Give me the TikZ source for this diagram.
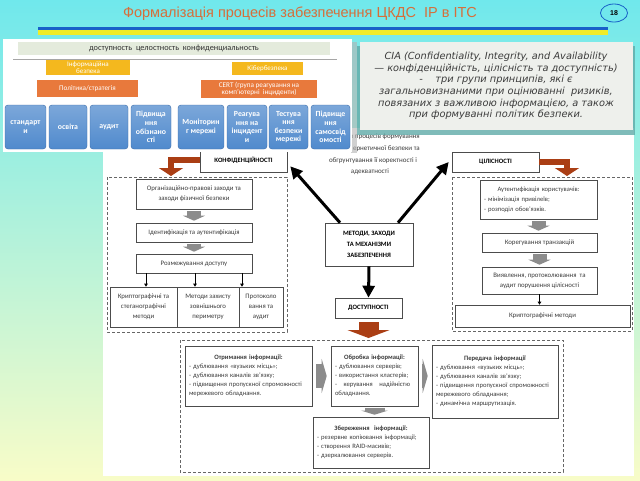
\documentclass[tikz,border=0pt]{standalone}
\usepackage{fontspec}
\setmainfont{Liberation Sans}
\newfontfamily\carl{Carlito}
\newfontfamily\dejavu{DejaVu Sans}
\usetikzlibrary{arrows.meta,shapes.geometric}

\definecolor{titleorange}{RGB}{214,110,58}
\definecolor{bgcyan}{RGB}{112,232,236}
\definecolor{bgyellow}{RGB}{248,252,200}
\definecolor{stripeblue}{RGB}{24,96,200}
\definecolor{stripeyellow}{RGB}{240,236,40}
\definecolor{barbeige}{RGB}{228,235,220}
\definecolor{boxgold}{RGB}{244,184,30}
\definecolor{boxorange}{RGB}{232,121,60}
\definecolor{boxblue}{RGB}{80,138,205}
\definecolor{boxblueline}{RGB}{58,108,170}
\definecolor{ciagray}{RGB}{238,240,236}
\definecolor{ciashadow}{RGB}{96,170,168}
\definecolor{arrowbrown}{RGB}{170,62,20}
\definecolor{textgray}{RGB}{60,60,60}

\newcommand{\boxhead}[1]{\makebox[\linewidth]{\bfseries #1}}

\tikzset{
  plainbox/.style={draw=black!70, line width=0.6pt, fill=white, text=textgray,
    align=center, inner sep=1pt, font=\carl\fontsize{6.8}{10}\selectfont},
  listbox/.style={plainbox, align=left, inner sep=4pt, font=\carl\fontsize{6.6}{9}\selectfont},
  capsbox/.style={plainbox, text=black, font=\carl\bfseries\fontsize{6.6}{11}\selectfont},
  dashframe/.style={draw=black!60, densely dashed, line width=0.5pt},
  bigarrow/.style={line width=3pt, -{Triangle[length=12pt,width=12pt]}},
  brownarrow/.style={arrowbrown, line width=6pt, -{Triangle[length=8pt,width=24pt]}},
  grayarrow/.style={black!45, line width=14pt, -{Triangle[length=5pt,width=22pt]},
    shorten <=2pt, shorten >=2pt},
  hgrayarrow/.style={black!45, line width=24pt, -{Triangle[length=5pt,width=34pt]},
    shorten <=4pt, shorten >=4pt},
  smallarrow/.style={line width=0.8pt, -{Triangle[length=3pt,width=3.5pt]}},
  goldbox/.style={fill=boxgold, text=white, align=center, inner sep=0pt,
    font=\carl\fontsize{7}{7.2}\selectfont},
  orangebox/.style={fill=boxorange, text=white, align=center, inner sep=0pt,
    font=\carl\fontsize{7.2}{7.4}\selectfont},
  bluebox/.style={draw=boxblueline, rounded corners=3pt, top color=boxblue!75!white,
    bottom color=boxblue, text=white, align=center, inner sep=0pt, minimum height=44pt,
    font=\carl\bfseries\fontsize{7.8}{8.6}\selectfont},
  note/.style={text=textgray, inner sep=0pt, font=\carl\fontsize{7}{7}\selectfont}
}

\begin{document}
\begin{tikzpicture}[x=1pt,y=-1pt]
  \useasboundingbox (0,0) rectangle (640,480);
  \shade[top color=bgcyan, bottom color=bgyellow] (0,0) rectangle (640,480);
  \fill[white] (103,128) rectangle (634,476);

  % three properties
  \node[capsbox, minimum width=87pt, minimum height=24pt] (konf) at (243.5,160) {КОНФІДЕНЦІЙНОСТІ};
  \node[capsbox, minimum width=88pt, minimum height=43pt] (metody) at (369,244.5) {МЕТОДИ, ЗАХОДИ\\ТА МЕХАНІЗМИ\\ЗАБЕЗПЕЧЕННЯ};
  \node[capsbox, minimum width=87pt, minimum height=20pt] (cil) at (495.5,162) {ЦІЛІСНОСТІ};
  \node[capsbox, minimum width=67pt, minimum height=20pt] (dost) at (368.5,308) {ДОСТУПНОСТІ};

  \draw[bigarrow] ([xshift=-29pt]metody.north) -- ([xshift=3pt,yshift=6pt]konf.south east);
  \draw[bigarrow] ([xshift=29pt]metody.north) -- ([xshift=-3pt]cil.west);
  \draw[bigarrow] (metody.south) -- (dost.north);

  \coordinate (konfend) at (171,176);
  \coordinate (cilend) at (567,176);
  \coordinate (dostend) at (368.5,338);
  \draw[brownarrow] (konf.west) -| (konfend);
  \draw[brownarrow] (cil.east) -| (cilend);
  \draw[brownarrow, line width=20pt, -{Triangle[length=8pt,width=42pt]}] ([yshift=-4pt]dost.south) -- (dostend);

  \node[note, anchor=east] (note1) at (420,137) {в процесів формування};
  \node[note, anchor=east] (note2) at (420,149) {ернетичної безпеки та};
  \node[note] (note3) at (373,161) {обгрунтування її коректності і};
  \node[note] (note4) at (370,172) {адекватності};

  % confidentiality
  \draw[dashframe] (107,177) rectangle (287,332);
  \node[plainbox, minimum width=116pt, minimum height=30pt] (org) at (194,194) {Організаційно-правові заходи та\\заходи фізичної безпеки};
  \node[plainbox, minimum width=116pt, minimum height=19pt] (ident) at (194,232.5) {Ідентифікація та аутентифікація};
  \node[plainbox, minimum width=116pt, minimum height=19pt] (rozm) at (194,263.5) {Розмежування доступу};
  \node[plainbox, minimum width=67pt, minimum height=40pt] (krypt) at (143.5,307) {Криптографічні та\\стеганографічні\\методи};
  \node[plainbox, minimum width=62pt, minimum height=40pt] (zovn) at (208,307) {Методи захисту\\зовнішнього\\периметру};
  \node[plainbox, minimum width=44pt, minimum height=40pt] (prot) at (261,307) {Протоколо\\вання та\\аудит};
  \draw[grayarrow] (org.south) -- (ident.north);
  \draw[grayarrow] (ident.south) -- (rozm.north);
  \foreach \dx in {-48,1,48}
    \draw[smallarrow] ([xshift=\dx pt]rozm.south) -- ([xshift=\dx pt]rozm.south |- krypt.north);

  % integrity
  \draw[dashframe] (452,177) rectangle (632,331);
  \node[listbox, text width=109pt, minimum height=39pt, font=\carl\fontsize{6.6}{10}\selectfont] (autent) at (538.5,199.5) {\makebox[\linewidth]{Аутентифікація користувачів:}\\- мінімізація привілеїв;\\- розподіл обов’язків.};
  \node[plainbox, minimum width=115pt, minimum height=19pt] (korig) at (539.5,242.5) {Корегування транзакцій};
  \node[plainbox, minimum width=115pt, minimum height=27pt] (vyavl) at (539.5,280.5) {Виявлення, протоколювання\ \ та\\аудит порушення цілісності};
  \node[plainbox, minimum width=175pt, minimum height=22pt] (kryptm) at (542.5,316) {Криптографічні методи};
  \draw[grayarrow] (autent.south) -- (autent.south |- korig.north);
  \draw[grayarrow] (korig.south) -- (vyavl.north);
  \draw[smallarrow] (vyavl.south) -- (vyavl.south |- kryptm.north);

  % availability
  \draw[dashframe] (180,340) rectangle (563,472);
  \node[listbox, text width=119pt, minimum height=60pt] (otr) at (248.5,376) {\boxhead{Отримання інформації:}\\- дублювання «вузьких місць»;\\- дублювання каналів зв’язку;\\- підвищення пропускної спроможності\\мережевого обладнання.};
  \node[listbox, text width=79pt, minimum height=60pt] (obr) at (374.5,376) {\boxhead{Обробка інформації:}\\- дублювання серверів;\\- використання кластерів;\\-\ \ \ керування\ \ \ надійністю\\обладнання.};
  \node[listbox, text width=118pt, minimum height=73pt] (pered) at (495,381.5) {\boxhead{Передача інформації}\\- дублювання «вузьких місць»;\\- дублювання каналів зв’язку;\\- підвищення пропускної спроможності\\мережевого обладнання;\\- динамічна маршрутизація.};
  \node[listbox, text width=108pt, minimum height=51pt] (zber) at (371,442.5) {\boxhead{Збереження\ \ інформації:}\\- резервне копіювання інформації;\\- створення RAID-масивів;\\- дзеркалювання серверів.};
  \draw[hgrayarrow] (otr.east) -- (obr.west);
  \draw[hgrayarrow] (obr.east) -- (obr.east -| pered.west);
  \draw[grayarrow, line width=20pt, -{Triangle[length=4pt,width=26pt]}] (obr.south) -- (obr.south |- zber.north);

  % inset, top left
  \fill[black!30, opacity=.6] (351,42) rectangle (357,153);
  \fill[white] (3,39) rectangle (352,152);
  \node[fill=barbeige, minimum width=312pt, minimum height=13pt, inner sep=0pt, text=black!80,
    font=\carl\fontsize{8.3}{8.5}\selectfont] (triad) at (174,48.5) {доступность\ \ целостность\ \ конфиденциальность};
  \draw[black!35] (13,59) -- (337,59);
  \node[goldbox, minimum width=84pt, minimum height=15pt] (infsec) at (88,67.5) {Інформаційна\\безпека};
  \node[orangebox, minimum width=101pt, minimum height=17pt] (policy) at (87.5,88.5) {Політика/стратегія};
  \node[goldbox, minimum width=71pt, minimum height=13pt] (cybsec) at (267.5,68.5) {Кібербезпека};
  \node[orangebox, minimum width=116pt, minimum height=18pt] (cert) at (259,89) {CERT (група реагування на\\комп’ютерні\ \ інциденти)};
  \node[bluebox, minimum width=41pt] (std) at (25.5,127) {стандарт\\и};
  \node[bluebox, minimum width=38pt] (osv) at (68,127) {освіта};
  \node[bluebox, minimum width=38pt] (aud) at (109,127) {аудит};
  \node[bluebox, minimum width=40pt] (obizn) at (151,127) {Підвища\\ння\\обізнано\\сті};
  \node[bluebox, minimum width=46pt] (monit) at (201,127) {Моніторин\\г мережі};
  \node[bluebox, minimum width=40pt] (reag) at (247,127) {Реагува\\ння на\\інцидент\\и};
  \node[bluebox, minimum width=39pt] (test) at (288.5,127) {Тестува\\ння\\безпеки\\мережі};
  \node[bluebox, minimum width=39pt] (samos) at (330.5,127) {Підвище\\ння\\самосвід\\омості};

  % inset, top right
  \fill[ciashadow, opacity=.8] (357,46) rectangle (635,135);
  \fill[ciagray] (360,42) rectangle (633,130);
  \node[text=textgray, align=center, font=\dejavu\itshape\fontsize{9.8}{11.6}\selectfont] (cia) at (496,86)
    {CIA (Confidentiality, Integrity, and Availability\\— конфіденційність, цілісність та доступність)\\-\ \ \ \ три групи принципів, які є\\загальновизнаними при оцінюванні\ \ ризиків,\\повязаних з важливою інформацією, а також\\при формуванні політик безпеки.};

  % title bar
  \node[text=titleorange, font=\fontsize{14.5}{16}\selectfont] (title) at (300,14) {Формалізація процесів забезпечення ЦКДС\ \ ІР в ІТС};
  \fill[stripeblue] (38,26.5) rectangle (608,30);
  \fill[stripeyellow] (38,30) rectangle (608,34.5);
  \node[ellipse, draw=stripeblue, line width=0.8pt, fill=bgcyan, minimum width=27pt, minimum height=18pt,
    inner sep=0pt, font=\bfseries\fontsize{7}{8}\selectfont] (pagenum) at (614,13) {18};
\end{tikzpicture}
\end{document}
